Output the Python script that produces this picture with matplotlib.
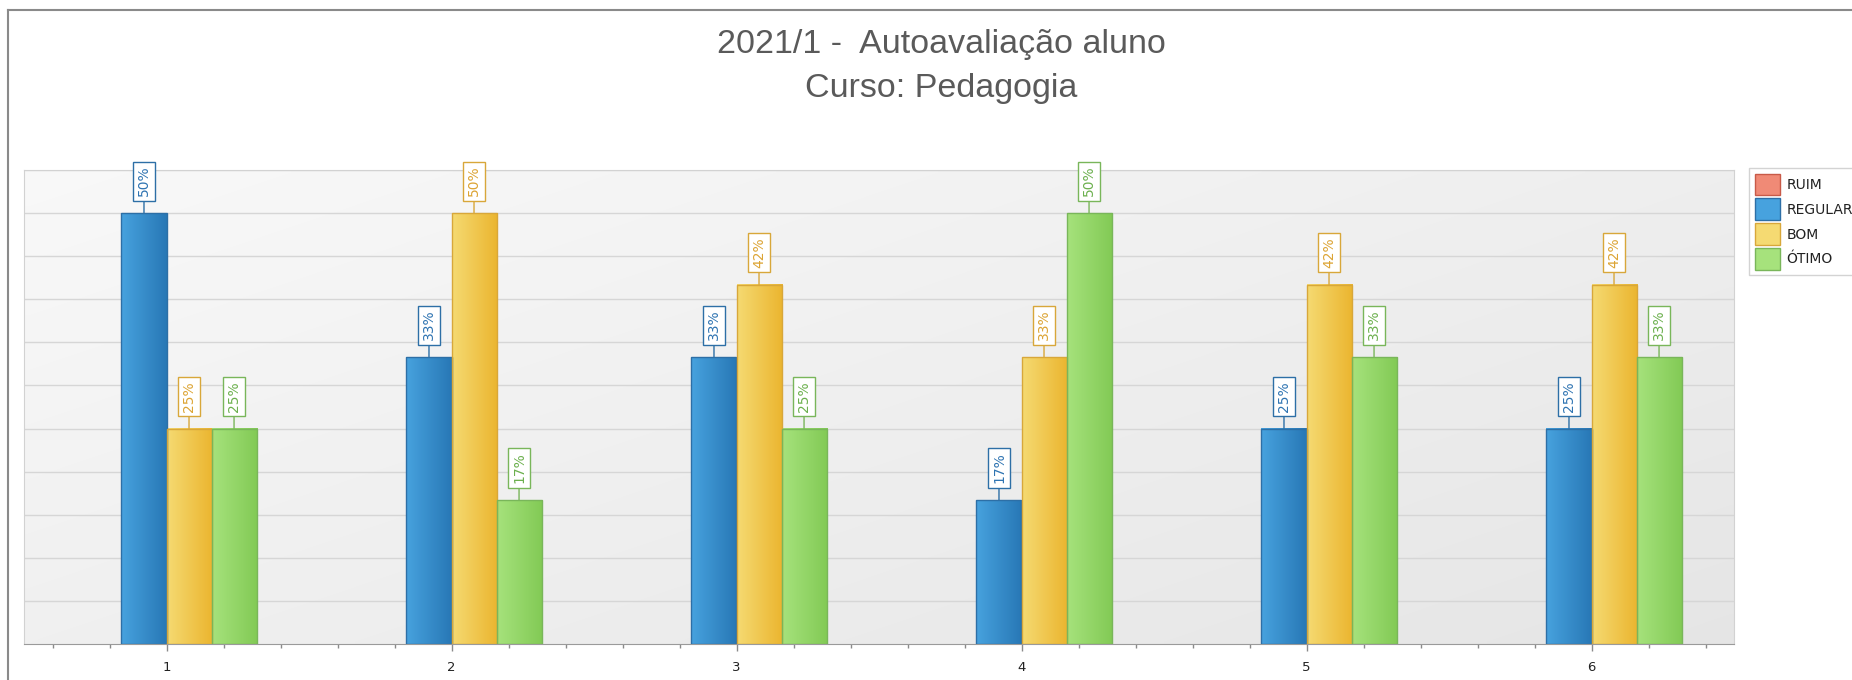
from matplotlib import pyplot as plt
from matplotlib.lines import Line2D
from matplotlib.patches import Patch
import matplotlib.colors as mcolors
import numpy as np

# data
categories = ['1', '2', '3', '4', '5', '6']
series = ['RUIM', 'REGULAR', 'BOM', 'ÓTIMO']
ruim = [0, 0, 0, 0, 0, 0]
regular = [50, 33.3, 33.3, 16.7, 25, 25]
bom = [25, 50, 41.7, 33.3, 41.7, 41.7]
otimo = [25, 16.7, 25, 50, 33.3, 33.3]
values = [ruim, regular, bom, otimo]

# colours: (gradient left, gradient right, edge, label text)
styles = [
    ('#f08a76', '#d9604d', '#c85a48', '#c85a48'),
    ('#47a2de', '#2878b6', '#2d6fa6', '#2f74b2'),
    ('#f5da72', '#ebb52f', '#d8a73a', '#dca434'),
    ('#a6e27c', '#82ca55', '#79b65a', '#6cb04e'),
]

W, H = 1852, 680
fig = plt.figure(figsize=(W / 100, H / 100), dpi=100)
fig.patch.set_facecolor('white')
ax = fig.add_axes([24 / W, 1 - 644 / H, (1734 - 24) / W, (644 - 170) / H])

x = np.arange(1, len(categories) + 1)
width = 0.158
ymax = 55

# plot background gradient, light top-left to grey bottom-right
gx, gy = np.meshgrid(np.linspace(0, 1, 200), np.linspace(0, 1, 100))
shade = 0.975 - 0.075 * (0.55 * gx + 0.45 * gy)
bg = np.dstack([shade, shade, shade])
ax.imshow(bg, extent=(0.5, 6.5, 0, ymax), origin='upper', aspect='auto',
          zorder=0, interpolation='bilinear')

for i, (vals, st) in enumerate(zip(values, styles)):
    offs = (i - 1.5) * width
    bars = ax.bar(x + offs, vals, width, facecolor='none', edgecolor=st[2],
                  linewidth=1, zorder=3)
    c0 = np.array(mcolors.to_rgb(st[0]))
    c1 = np.array(mcolors.to_rgb(st[1]))
    grad = np.linspace(0, 1, 64)[:, None] * (c1 - c0) + c0
    grad = grad[None, :, :]
    for rect, v in zip(bars, vals):
        if v <= 0:
            rect.set_visible(False)
            continue
        x0 = rect.get_x()
        ax.imshow(grad, extent=(x0, x0 + rect.get_width(), 0, v), aspect='auto',
                  zorder=2.5, interpolation='bilinear')
        ax.annotate(f'{v:.0f}%', xy=(x0 + rect.get_width() / 2, v),
                    xytext=(0, 12), textcoords='offset points',
                    rotation=90, ha='center', va='bottom', fontsize=10,
                    color=st[3], zorder=5,
                    bbox=dict(boxstyle='square,pad=0.3', fc='white', ec=st[2], lw=1),
                    arrowprops=dict(arrowstyle='-', color=st[2], lw=1,
                                    shrinkA=0, shrinkB=0))

ax.set_xlim(0.5, 6.5)
ax.set_ylim(0, ymax)
ax.set_yticks(np.arange(5, ymax + 1, 5))
ax.set_yticklabels([])
ax.tick_params(axis='y', length=0)
ax.grid(axis='y', color='#d6d6d6', linewidth=1, zorder=1)
ax.set_axisbelow(True)

ax.set_xticks(x)
ax.set_xticklabels(categories, fontsize=9.5, color='#222222')
ax.set_xticks(np.arange(0.6, 6.5, 0.2), minor=True)
ax.tick_params(axis='x', which='major', length=5, width=1, color='#8a8a8a', pad=7)
ax.tick_params(axis='x', which='minor', length=3, width=1, color='#8a8a8a')

for s in ['top', 'left', 'right']:
    ax.spines[s].set_color('#d2d2d2')
ax.spines['bottom'].set_color('#9a9a9a')

# title
tx = 941 / W
fig.text(tx, 1 - 53 / H, '2021/1 -  Autoavaliação aluno', ha='center', va='baseline',
         fontsize=24.5, color='#5a5a5a', family='Liberation Sans')
fig.text(tx, 1 - 97 / H, 'Curso: Pedagogia', ha='center', va='baseline',
         fontsize=24.5, color='#5a5a5a', family='Liberation Sans')

# legend
handles = [Patch(facecolor=st[0], edgecolor=st[2], label=name)
           for name, st in zip(series, styles)]
leg = fig.legend(handles=handles, loc='upper left',
                 bbox_to_anchor=(1749 / W, 1 - 168 / H), bbox_transform=fig.transFigure,
                 fontsize=10, frameon=True, fancybox=False, borderaxespad=0,
                 handlelength=1.85, handleheight=2.0, labelspacing=0.25,
                 handletextpad=0.45, borderpad=0.4)
leg.get_frame().set_edgecolor('#c8c8c8')
leg.get_frame().set_linewidth(1)
for t in leg.get_texts():
    t.set_color('#222222')

# outer frame of the chart control
fig.add_artist(Line2D([8 / W, 1], [1 - 10 / H, 1 - 10 / H], transform=fig.transFigure,
                      color='#8a8a8a', linewidth=1.5))
fig.add_artist(Line2D([8 / W, 8 / W], [0, 1 - 10 / H], transform=fig.transFigure,
                      color='#8a8a8a', linewidth=1.5))

fig.savefig('out.png', dpi=100)
